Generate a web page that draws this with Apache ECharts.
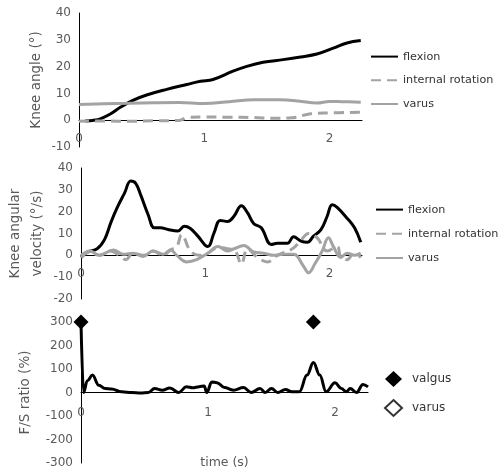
<!DOCTYPE html>
<html>
<head>
<meta charset="utf-8">
<script src="https://cdn.jsdelivr.net/npm/echarts@6/dist/echarts.min.js"></script>
<style>html,body{margin:0;padding:0;background:#fff}#c{width:500px;height:476px}</style>
</head>
<body>
<div id="c"></div>
<script>
// ---- Data ----
// Panel 1: knee angle (deg)
const angleFlexionT = [0.05, 0.12, 0.17, 0.25, 0.33, 0.43, 0.54, 0.70, 0.86, 0.97, 1.07, 1.23, 1.34, 1.47, 1.63, 1.77, 1.90, 2.03, 2.14, 2.25];
const angleFlexionV = [-0.3, 0, 0.5, 2.3, 4.8, 7.4, 9.4, 11.5, 13.3, 14.5, 15.2, 18.3, 20.1, 21.6, 22.6, 23.6, 24.7, 26.9, 28.8, 29.7];
const angleIntRotT = [0, 0.2, 0.4, 0.6, 0.8, 0.87, 1.0, 1.2, 1.4, 1.55, 1.7, 1.85, 2.0, 2.25];
const angleIntRotV = [-0.4, -0.3, -0.4, -0.2, -0.1, 1.1, 1.2, 1.1, 1.0, 0.7, 0.9, 2.4, 2.7, 3.0];
const angleVarusT = [0, 0.2, 0.4, 0.6, 0.8, 1.0, 1.2, 1.4, 1.6, 1.75, 1.9, 2.0, 2.1, 2.25];
const angleVarusV = [5.9, 6.1, 6.3, 6.5, 6.6, 6.2, 6.9, 7.6, 7.6, 7.2, 6.4, 7.0, 6.9, 6.7];

// Panel 2: knee angular velocity (deg/s)
const velFlexionT = [0, 0.05, 0.13, 0.19, 0.24, 0.29, 0.35, 0.40, 0.44, 0.48, 0.54, 0.59, 0.64, 0.70, 0.78, 0.83, 0.88, 0.94, 1.02, 1.07, 1.12, 1.18, 1.23, 1.29, 1.34, 1.39, 1.45, 1.53, 1.58, 1.66, 1.71, 1.77, 1.82, 1.87, 1.93, 1.98, 2.02, 2.06, 2.14, 2.20, 2.25];
const velFlexionV = [-1, 1.5, 3, 7.3, 15, 21.7, 28.5, 34, 33, 27.7, 18.6, 12.6, 12.6, 11.8, 11.2, 13.3, 12.3, 8.8, 4, 10.3, 16, 15.5, 17.9, 22.7, 19.4, 14.5, 12.6, 5, 5.5, 5.5, 8.5, 6.5, 6, 8.8, 11.8, 17.9, 23.2, 22, 17, 12.6, 6];
const velIntRotT = [0, 0.07, 0.15, 0.23, 0.31, 0.36, 0.42, 0.50, 0.58, 0.66, 0.72, 0.77, 0.81, 0.88, 0.95, 1.02, 1.10, 1.18, 1.24, 1.29, 1.34, 1.42, 1.50, 1.58, 1.70, 1.77, 1.83, 1.90, 1.98, 2.06, 2.09, 2.14, 2.20, 2.25];
const velIntRotV = [-1, 1.5, 0, 2, 0, -2, 1, 0, 2, 0, 2.5, 4, 9.5, 2, 0, 1, 3.5, 3, 2, -4, 3, -1, -3, 0, 3, 7, 10, 8, 2, 4, -1, -2, 1.5, -1];
const velVarusT = [0, 0.07, 0.15, 0.26, 0.34, 0.42, 0.50, 0.58, 0.66, 0.72, 0.77, 0.85, 0.93, 1.02, 1.10, 1.18, 1.23, 1.31, 1.39, 1.47, 1.55, 1.63, 1.71, 1.79, 1.83, 1.88, 1.94, 1.99, 2.03, 2.09, 2.14, 2.20, 2.25];
const velVarusV = [0, 2, 0, 2.5, 0.5, 1, -0.5, 2, 0.5, 2.5, 0, -3, -2, 1, 4, 2, 3, 4.5, 1.5, 1, 0, 0.5, 0.5, -5, -8, -4, 2, 8, 4, -1, 1, 0, 1];

// Panel 3: F/S ratio (%)
const fsT = [0, 0.02, 0.05, 0.09, 0.14, 0.19, 0.24, 0.32, 0.40, 0.47, 0.53, 0.58, 0.64, 0.70, 0.77, 0.83, 0.88, 0.93, 0.97, 0.99, 1.03, 1.07, 1.13, 1.20, 1.28, 1.34, 1.41, 1.45, 1.50, 1.55, 1.61, 1.66, 1.72, 1.78, 1.83, 1.88, 1.93, 2.00, 2.05, 2.09, 2.12, 2.17, 2.22, 2.26];
const fsV = [300, 0, 50, 74, 31, 17, 15, 3, 0, -2, 0, 17, 10, 19, 0, 24, 20, 25, 28, 0, 45, 42, 21, 10, 21, 0, 17, 0, 17, 0, 13, 3, 3, 74, 128, 74, 3, 41, 17, 3, 17, 0, 34, 24];
const valgusT = [0, 1.83];
const valgusV = [300, 300];

const xTicks = ['0', '1', '2'];

const zip = (a, b) => a.map((t, i) => [t, b[i]]);

// ---- Chart ----
const FONT = 'DejaVu Sans';
const GRAY = '#a3a3a3';
const chart = echarts.init(document.getElementById('c'), null, {renderer: 'canvas'});

function xAxis(gi, margin) {
  return {
    type: 'value', gridIndex: gi, min: 0, max: 2.26, interval: 1,
    axisLine: {show: true, onZero: true, lineStyle: {color: '#000', width: 1}},
    axisTick: {show: false}, splitLine: {show: false},
    axisLabel: {color: '#595959', fontFamily: FONT, fontSize: 12, margin, showMaxLabel: false,
      formatter: v => (Number.isInteger(v) ? xTicks[v] : '')}
  };
}
function yAxis(gi, min, max, interval, name, gap, lh) {
  return {
    type: 'value', gridIndex: gi, min, max, interval,
    name, nameLocation: 'middle', nameGap: gap, nameRotate: 90, nameMoveOverlap: false,
    nameTextStyle: {color: '#595959', fontFamily: FONT, fontSize: 13.5, lineHeight: lh},
    axisLine: {show: true, lineStyle: {color: '#000', width: 1}},
    axisTick: {show: false}, splitLine: {show: false},
    axisLabel: {color: '#595959', fontFamily: FONT, fontSize: 12, margin: 8}
  };
}
const legendText = {color: '#333', fontFamily: FONT, fontSize: 11.2};

chart.setOption({
  animation: false,
  backgroundColor: '#fff',
  grid: [
    {left: 79, top: 13, width: 283, height: 134, outerBoundsMode: 'none', containLabel: false},
    {left: 81, top: 168, width: 281, height: 131, outerBoundsMode: 'none', containLabel: false},
    {left: 81, top: 322, width: 287, height: 141, outerBoundsMode: 'none', containLabel: false}
  ],
  xAxis: [xAxis(0, -14), xAxis(1, -31), Object.assign(xAxis(2, -56), {name: 'time (s)', nameLocation: 'middle', nameGap: -7,
    nameTextStyle: {color: '#595959', fontFamily: FONT, fontSize: 12.5}})],
  yAxis: [
    yAxis(0, -10, 40, 10, 'Knee angle (°)', 35, 16),
    yAxis(1, -20, 40, 10, 'Knee angular\nvelocity (°/s)', 33, 22),
    yAxis(2, -300, 300, 100, 'F/S ratio (%)', 48, 16)
  ],
  legend: [
    {data: ['flexion', 'internal rotation', 'varus'], orient: 'vertical', left: 365, top: 46,
      itemWidth: 27, itemHeight: 14, itemGap: 12.5, itemStyle: {opacity: 0}, textStyle: legendText, formatter: n => n.trim()},
    {data: ['flexion ', 'internal rotation ', 'varus '], orient: 'vertical', left: 370, top: 199,
      itemWidth: 27, itemHeight: 14, itemGap: 13, itemStyle: {opacity: 0}, textStyle: legendText, formatter: n => n.trim()},
    {data: [{name: 'valgus', icon: 'diamond'}, {name: 'varus  ', icon: 'diamond'}], orient: 'vertical', left: 379, top: 366,
      itemWidth: 17, itemHeight: 16, itemGap: 12, textStyle: Object.assign({}, legendText, {fontSize: 12, padding: [0,0,0,5]}), formatter: n => n.trim()}
  ],
  series: [
    {name: 'flexion', type: 'line', xAxisIndex: 0, yAxisIndex: 0, data: zip(angleFlexionT, angleFlexionV),
      smooth: 0.4, symbol: 'none', lineStyle: {color: '#000', width: 3}, itemStyle: {color: '#000'}},
    {name: 'internal rotation', type: 'line', xAxisIndex: 0, yAxisIndex: 0, data: zip(angleIntRotT, angleIntRotV),
      smooth: 0.4, symbol: 'none', lineStyle: {color: GRAY, width: 3, type: [10, 6]}, itemStyle: {color: GRAY}},
    {name: 'varus', type: 'line', xAxisIndex: 0, yAxisIndex: 0, data: zip(angleVarusT, angleVarusV),
      smooth: 0.4, symbol: 'none', lineStyle: {color: GRAY, width: 3}, itemStyle: {color: GRAY}},

    {name: 'flexion ', type: 'line', xAxisIndex: 1, yAxisIndex: 1, data: zip(velFlexionT, velFlexionV),
      smooth: 0.4, symbol: 'none', lineStyle: {color: '#000', width: 3}, itemStyle: {color: '#000'}},
    {name: 'internal rotation ', type: 'line', xAxisIndex: 1, yAxisIndex: 1, data: zip(velIntRotT, velIntRotV),
      smooth: 0.4, symbol: 'none', lineStyle: {color: GRAY, width: 3, type: [10, 6]}, itemStyle: {color: GRAY}},
    {name: 'varus ', type: 'line', xAxisIndex: 1, yAxisIndex: 1, data: zip(velVarusT, velVarusV),
      smooth: 0.4, symbol: 'none', lineStyle: {color: GRAY, width: 3}, itemStyle: {color: GRAY}},

    {name: 'fs', type: 'line', xAxisIndex: 2, yAxisIndex: 2, data: zip(fsT, fsV),
      smooth: 0.4, smoothMonotone: 'x', symbol: 'none', lineStyle: {color: '#000', width: 3}, z: 3},
    {name: 'valgus', type: 'scatter', xAxisIndex: 2, yAxisIndex: 2, data: zip(valgusT, valgusV),
      symbol: 'diamond', symbolSize: 15, itemStyle: {color: '#000', opacity: 1}, z: 4},
    {name: 'varus  ', type: 'scatter', xAxisIndex: 2, yAxisIndex: 2, data: [],
      symbol: 'diamond', symbolSize: 15, itemStyle: {color: '#fff', borderColor: '#000', borderWidth: 1.2}}
  ]
});
</script>
</body>
</html>
